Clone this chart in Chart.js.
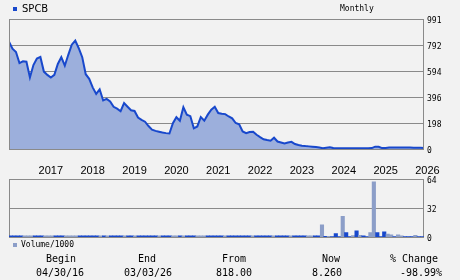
<!DOCTYPE html>
<html>
<head>
<meta charset="utf-8">
<script src="https://cdn.jsdelivr.net/npm/chart.js@4.4.1/dist/chart.umd.min.js"></script>
<style>
  body { margin: 0; background: #f2f2f2; }
  #wrap { position: relative; width: 460px; height: 280px; overflow: hidden; background: #f2f2f2; }
  canvas { position: absolute; left: 0; }
  .t { position: absolute; white-space: nowrap; color: #000; line-height: 12px; }
  .mono { font-family: "DejaVu Sans Mono", monospace; }
  .c { transform: translateX(-50%); }
  .sq { position: absolute; width: 4px; height: 4px; }
</style>
</head>
<body>
<div id="wrap">
  <canvas id="price" width="460" height="180" style="top:0"></canvas>
  <canvas id="volume" width="460" height="75" style="top:170px"></canvas>

  <div class="sq" style="left:13px;top:7px;background:#1848cc"></div>
  <div class="t" style="left:22px;top:3px;font:10px 'DejaVu Sans'">SPCB</div>
  <div class="t mono" style="left:340px;top:3px;font-size:8px">Monthly</div>

  <div class="sq" style="left:13px;top:243px;background:#8c9ec8"></div>
  <div class="t mono" style="left:21px;top:239px;font-size:8px">Volume/1000</div>

  <div class="t mono c" style="left:61px;top:253px;font-size:10px">Begin</div>
  <div class="t mono c" style="left:60px;top:267px;font-size:10px">04/30/16</div>
  <div class="t mono c" style="left:147px;top:253px;font-size:10px">End</div>
  <div class="t mono c" style="left:148px;top:267px;font-size:10px">03/03/26</div>
  <div class="t mono c" style="left:234px;top:253px;font-size:10px">From</div>
  <div class="t mono c" style="left:234px;top:267px;font-size:10px">818.00</div>
  <div class="t mono c" style="left:331px;top:253px;font-size:10px">Now</div>
  <div class="t mono c" style="left:327px;top:267px;font-size:10px">8.260</div>
  <div class="t mono c" style="left:414px;top:253px;font-size:10px">% Change</div>
  <div class="t mono c" style="left:421px;top:267px;font-size:10px">-98.99%</div>
</div>
<script>
// monthly closes, 04/2016 .. 03/2026
const priceValues = [
  818, 765, 740, 655, 668, 665, 545, 640, 690, 702,
  590, 565, 545, 565, 648, 700, 635, 718, 795, 826,
  768, 700, 570, 535, 470, 420, 455, 370, 382, 362,
  322, 308, 288, 350, 322, 295, 290, 240, 222, 208,
  175, 148, 138, 132, 126, 121, 118, 196, 242, 215,
  318, 262, 250, 158, 172, 244, 216, 262, 300, 322,
  274, 268, 266, 248, 234, 198, 188, 134, 120, 130,
  132, 108, 90, 74, 68, 63, 86, 57, 50, 43,
  50, 55, 38, 30, 25, 22, 20, 18, 15, 11,
  6, 10, 13, 7, 6, 6, 5, 6, 6, 6,
  6, 6, 6, 6, 7, 18, 17, 7, 8, 11,
  11, 11, 11, 11, 11, 11, 10, 10, 10, 8.26
];
// volume / 1000
const volumeValues = [
  1.6, 1.6, 1.6, 1.6, 1.6, 1.6, 1.6, 1.6, 1.6, 1.6,
  1.6, 1.6, 1.6, 1.6, 1.6, 1.6, 1.6, 1.6, 1.6, 1.6,
  1.6, 1.6, 1.6, 1.6, 1.6, 1.6, 1.6, 1.6, 1.6, 1.6,
  1.6, 1.6, 1.6, 1.6, 1.6, 1.6, 1.6, 1.6, 1.6, 1.6,
  1.6, 1.6, 1.6, 1.6, 1.6, 1.6, 1.6, 1.6, 1.6, 1.6,
  1.6, 1.6, 1.6, 1.6, 1.6, 1.6, 1.6, 1.6, 1.6, 1.6,
  1.6, 1.6, 1.6, 1.6, 1.6, 1.6, 1.6, 1.6, 1.6, 1.6,
  1.6, 1.6, 1.6, 1.6, 1.6, 1.6, 1.6, 1.6, 1.6, 1.6,
  1.6, 1.6, 1.6, 1.6, 1.6, 1.6, 1.6, 1.6, 1.6, 1.6,
  13.5, 1, 1, 0.8, 4, 0.8, 23, 5, 0.8, 1.7,
  7, 2, 1.5, 0.8, 5, 61, 5, 0.8, 6, 3.5,
  2.7, 0.8, 2.7, 1.5, 0.8, 0.8, 0.8, 2, 0.8, 0.8
];
// 1 = up month (dark bar), 0 = down month (light bar)
const volumeUp = [
  1, 1, 1, 1, 0, 0, 0, 1, 1, 1,
  0, 0, 0, 1, 1, 1, 0, 0, 0, 0,
  1, 1, 1, 1, 1, 1, 0, 1, 0, 1,
  1, 1, 1, 0, 1, 1, 0, 1, 1, 1,
  1, 1, 1, 0, 1, 1, 1, 0, 0, 1,
  0, 1, 1, 1, 0, 0, 0, 1, 1, 1,
  1, 1, 0, 1, 1, 1, 1, 1, 1, 1,
  0, 1, 1, 1, 1, 1, 0, 1, 1, 1,
  1, 0, 1, 1, 1, 1, 0, 0, 1, 1,
  0, 1, 0, 1, 1, 1, 0, 1, 1, 0,
  1, 0, 1, 1, 0, 0, 1, 1, 1, 0,
  0, 1, 0, 0, 1, 1, 1, 0, 1, 1
];
const yearLabels = ['2017', '2018', '2019', '2020', '2021', '2022', '2023', '2024', '2025', '2026'];
const priceTicks = [0, 198, 396, 594, 792, 991];
const volumeTicks = [0, 32, 64];

const BLUE = '#1848cc';
const FILL = '#9cafdc';
const LIGHT = '#8c9ec8';
const GRID = '#8a8a8a';

Chart.defaults.color = '#000';
Chart.defaults.animation = false;

function framePlugin(hook) {
  return {
    id: 'frame',
    [hook](chart) {
      const { ctx, chartArea: a } = chart;
      ctx.save();
      ctx.strokeStyle = GRID;
      ctx.lineWidth = 1;
      ctx.strokeRect(Math.round(a.left) + 0.5, Math.round(a.top) + 0.5,
        Math.round(a.right - a.left) - 1, Math.round(a.bottom - a.top));
      ctx.restore();
    }
  };
}

const rightAxis = (max, ticks) => ({
  position: 'right',
  min: 0,
  max: max,
  afterBuildTicks: s => { s.ticks = ticks.map(v => ({ value: v })); },
  grid: { color: GRID, drawTicks: false },
  border: { display: false },
  ticks: { padding: 3, labelOffset: 2, font: { family: 'DejaVu Sans Mono', size: 8 } },
  afterFit: s => { s.width = 36; }
});

new Chart(document.getElementById('price'), {
  type: 'line',
  data: {
    datasets: [{
      data: priceValues.map((v, i) => ({ x: i, y: v })),
      borderColor: BLUE,
      backgroundColor: FILL,
      borderWidth: 2,
      fill: 'origin',
      tension: 0,
      pointRadius: 0
    }]
  },
  options: {
    responsive: false,
    layout: { padding: { left: 9, top: 19, right: 0, bottom: 0 } },
    plugins: { legend: { display: false }, tooltip: { enabled: false } },
    scales: {
      x: {
        type: 'linear',
        min: 0,
        max: priceValues.length - 1,
        afterBuildTicks: s => { s.ticks = yearLabels.map((l, k) => ({ value: (k + 1) * 12 })); },
        grid: { display: false, drawTicks: false },
        border: { display: false },
        ticks: {
          autoSkip: false, maxRotation: 0, padding: 15,
          font: { family: 'Liberation Sans', size: 11 },
          callback: v => yearLabels[v / 12 - 1]
        },
        afterFit: s => { s.height = 31; }
      },
      y: rightAxis(991, priceTicks)
    }
  },
  plugins: [framePlugin('afterDatasetsDraw')]
});

new Chart(document.getElementById('volume'), {
  type: 'bar',
  data: {
    labels: volumeValues.map((v, i) => i),
    datasets: [{
      data: volumeValues,
      backgroundColor: volumeUp.map(u => u ? BLUE : LIGHT),
      barPercentage: 1,
      categoryPercentage: 1,
      borderWidth: 0
    }]
  },
  options: {
    responsive: false,
    layout: { padding: { left: 9, top: 9, right: 0, bottom: 7 } },
    plugins: { legend: { display: false }, tooltip: { enabled: false } },
    scales: {
      x: { display: false },
      y: rightAxis(64, volumeTicks)
    }
  },
  plugins: [framePlugin('beforeDatasetsDraw')]
});
</script>
</body>
</html>
